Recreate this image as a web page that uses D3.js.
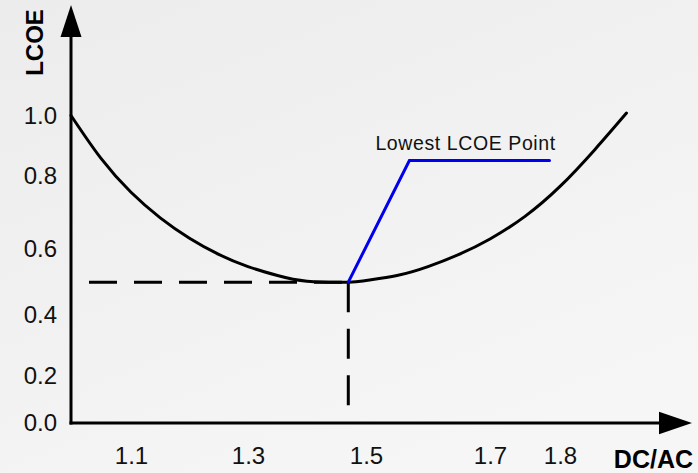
<!DOCTYPE html>
<html>
<head>
<meta charset="utf-8">
<script src="https://cdn.jsdelivr.net/npm/d3@7"></script>
<style>
  html, body { margin: 0; padding: 0; background: #f1f1f1; }
  svg { display: block; }
  text { font-family: "Liberation Sans", Arial, sans-serif; }
</style>
</head>
<body>
<svg id="chart" width="698" height="473"></svg>
<script>
// ---- data ----
const dcac = [1.00, 1.05, 1.10, 1.15, 1.20, 1.25, 1.30, 1.35, 1.40, 1.47, 1.50, 1.55, 1.60, 1.65, 1.70, 1.75, 1.80, 1.85, 1.895];
const lcoe = [1.00, 0.857, 0.754, 0.684, 0.628, 0.582, 0.545, 0.518, 0.501, 0.498, 0.503, 0.518, 0.545, 0.582, 0.626, 0.688, 0.770, 0.887, 1.008];
const minPoint = [1.47, 0.498];
const dashStartX = 1.03;
const dashEndY = 0.075;
const calloutX = [1.47, 1.57, 1.785];
const calloutY = [0.498, 0.85, 0.85];
const calloutLabel = "Lowest LCOE Point";
const xTicks = [1.1, 1.3, 1.5, 1.7, 1.8];
const xTickLabels = ["1.1", "1.3", "1.5", "1.7", "1.8"];
const yTicks = [0.0, 0.2, 0.4, 0.6, 0.8, 1.0];
const yTickLabels = ["0.0", "0.2", "0.4", "0.6", "0.8", "1.0"];
const xTitle = "DC/AC";
const yTitle = "LCOE";

// ---- scales (schematic axis, uneven spacing as in the original) ----
const x = d3.scaleLinear()
  .domain([1.0, 1.1, 1.3, 1.5, 1.7, 1.8])
  .range([71, 131, 248, 366, 490, 560]);
const y = d3.scaleLinear()
  .domain([0.0, 0.2, 0.4, 0.6, 0.8, 1.0])
  .range([423, 375.5, 314.5, 248.5, 175.5, 115.5]);

const svg = d3.select("#chart");

// background gradient
const defs = svg.append("defs");
const grad = defs.append("linearGradient").attr("id", "bg")
  .attr("x1", "0").attr("y1", "0").attr("x2", "0.6").attr("y2", "1");
grad.append("stop").attr("offset", "0").attr("stop-color", "#ececec");
grad.append("stop").attr("offset", "1").attr("stop-color", "#f6f6f6");
svg.append("rect").attr("width", 698).attr("height", 473).attr("fill", "url(#bg)");

const x0 = x(1.0), yBase = y(0);

// axes lines
svg.append("line")
  .attr("x1", x0).attr("x2", x0).attr("y1", 36).attr("y2", yBase + 1.5)
  .attr("stroke", "#000").attr("stroke-width", 3);
svg.append("line")
  .attr("x1", x0 - 1.5).attr("x2", 660).attr("y1", yBase).attr("y2", yBase)
  .attr("stroke", "#000").attr("stroke-width", 3);
// arrow heads
svg.append("path")
  .attr("d", `M${x0},5 L${x0 + 10.5},37 L${x0 - 10.5},37 Z`).attr("fill", "#000");
svg.append("path")
  .attr("d", `M692,${yBase} L659,${yBase - 11.3} L659,${yBase + 11.3} Z`).attr("fill", "#000");

// tick labels via d3 axes
const yAxis = d3.axisLeft(y).tickValues(yTicks)
  .tickFormat((d, i) => yTickLabels[i]).tickSize(0).tickPadding(14);
const gy = svg.append("g").attr("transform", `translate(${x0},0)`).call(yAxis);
gy.select(".domain").remove();
gy.selectAll("text").attr("font-size", 24).attr("fill", "#111")
  .attr("font-family", "Liberation Sans, Arial, sans-serif");

const xAxis = d3.axisBottom(x).tickValues(xTicks)
  .tickFormat((d, i) => xTickLabels[i]).tickSize(0).tickPadding(24);
const gx = svg.append("g").attr("transform", `translate(0,${yBase})`).call(xAxis);
gx.select(".domain").remove();
gx.selectAll("text").attr("font-size", 24).attr("fill", "#111")
  .attr("font-family", "Liberation Sans, Arial, sans-serif");

// axis titles
svg.append("text")
  .attr("transform", `translate(43,42.5) rotate(-90)`)
  .attr("text-anchor", "middle")
  .attr("font-size", 24).attr("font-weight", "bold").attr("fill", "#000")
  .text(yTitle);
svg.append("text")
  .attr("x", 693).attr("y", 468).attr("text-anchor", "end")
  .attr("font-size", 25).attr("font-weight", "bold").attr("fill", "#000")
  .text(xTitle);

// dashed guide lines
svg.append("line")
  .attr("x1", x(dashStartX)).attr("x2", x(minPoint[0]))
  .attr("y1", y(minPoint[1])).attr("y2", y(minPoint[1]))
  .attr("stroke", "#000").attr("stroke-width", 3).attr("stroke-dasharray", "28,17");
svg.append("line")
  .attr("x1", x(minPoint[0])).attr("x2", x(minPoint[0]))
  .attr("y1", y(minPoint[1])).attr("y2", y(dashEndY))
  .attr("stroke", "#000").attr("stroke-width", 3).attr("stroke-dasharray", "30,16.5");

// curve
const pts = dcac.map((d, i) => [d, lcoe[i]]);
const line = d3.line().x(d => x(d[0])).y(d => y(d[1])).curve(d3.curveNatural);
svg.append("path").datum(pts)
  .attr("d", line).attr("fill", "none")
  .attr("stroke", "#000").attr("stroke-width", 3).attr("stroke-linecap", "round");

// callout
const cpts = calloutX.map((d, i) => [d, calloutY[i]]);
svg.append("path").datum(cpts)
  .attr("d", d3.line().x(d => x(d[0])).y(d => y(d[1])))
  .attr("fill", "none").attr("stroke", "#0000ee").attr("stroke-width", 3)
  .attr("stroke-linecap", "round").attr("stroke-linejoin", "miter");
svg.append("text")
  .attr("x", x(calloutX[1]) - 34).attr("y", y(calloutY[1]) - 11)
  .attr("font-size", 19.5).attr("letter-spacing", 0.6).attr("fill", "#111")
  .text(calloutLabel);
</script>
</body>
</html>
